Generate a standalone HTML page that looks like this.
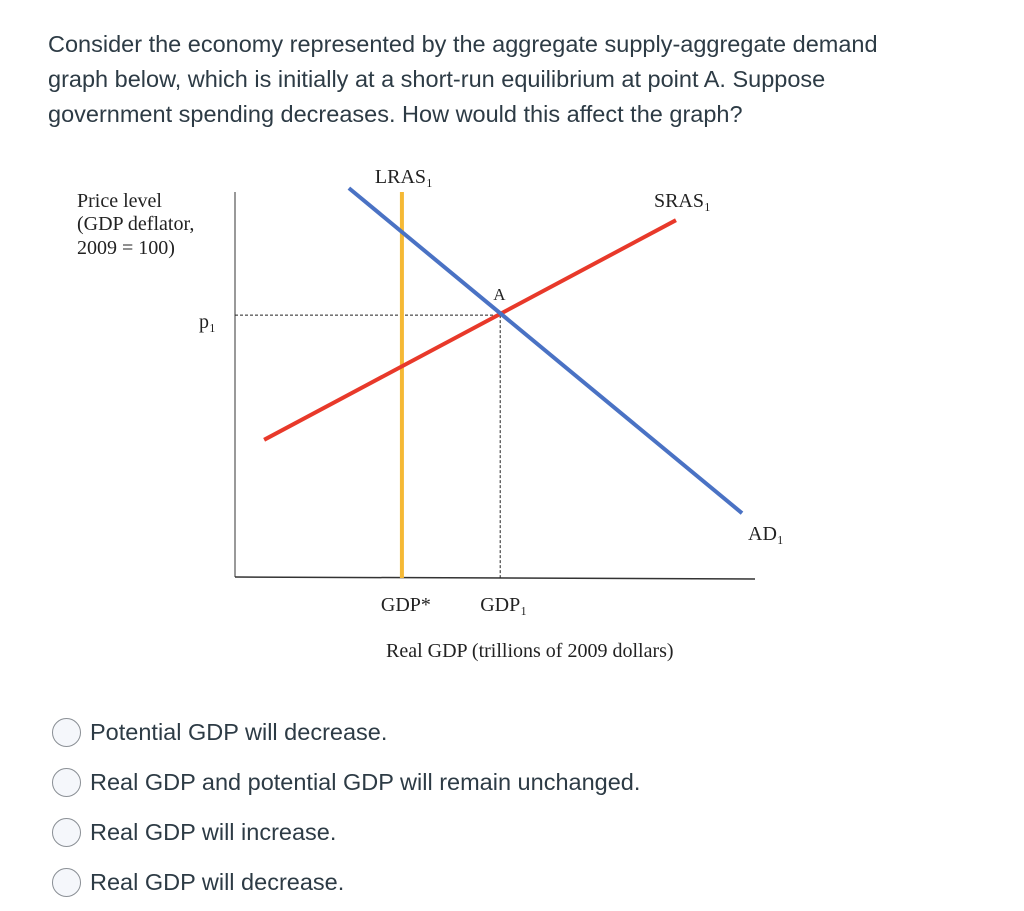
<!DOCTYPE html>
<html><head><meta charset="utf-8"><style>
body{margin:0;background:#fff;width:1024px;height:911px;overflow:hidden;font-family:"Liberation Sans",sans-serif;color:#2d3b45}
.q{position:absolute;left:48px;top:27px;font-size:23.5px;line-height:35px;width:980px;white-space:nowrap}
.opt{position:absolute;left:52px;height:30px;font-size:23.5px;line-height:30px}
.opt .c{position:absolute;left:0;top:1px;width:27px;height:27px;border:1px solid #8a8f95;border-radius:50%;background:#f5f7fb}
.opt span{position:absolute;left:38px;white-space:nowrap;color:#2d3b45}
svg text{font-family:"Liberation Serif",serif;fill:#222}
</style></head><body>
<div class="q">Consider the economy represented by the aggregate supply-aggregate demand<br>graph below, which is initially at a short-run equilibrium at point A. Suppose<br>government spending decreases. How would this affect the graph?</div>
<svg id="chart" width="1024" height="911" style="position:absolute;left:0;top:0">
<text x="77" y="207" font-size="20">Price level</text>
<text x="77" y="230" font-size="20">(GDP deflator,</text>
<text x="77" y="254" font-size="20">2009 = 100)</text>
<text x="386" y="657" font-size="20">Real GDP (trillions of 2009 dollars)</text>
<g id="marks"></g>
</svg>
<div class="opt" style="top:717px"><div class="c"></div><span>Potential GDP will decrease.</span></div>
<div class="opt" style="top:767px"><div class="c"></div><span>Real GDP and potential GDP will remain unchanged.</span></div>
<div class="opt" style="top:817px"><div class="c"></div><span>Real GDP will increase.</span></div>
<div class="opt" style="top:867px"><div class="c"></div><span>Real GDP will decrease.</span></div>
<script>
const lrasX = [32.1];
const adX = [21.9, 97.5];
const adY = [101, 16.8];
const srasX = [5.6, 84.8];
const srasY = [35.8, 92.7];
const eqPoint = [51, 68.1];
const sx = v => 235 + v * 5.2;
const sy = v => 578 - v * 3.86;
const NS = "http://www.w3.org/2000/svg";
const g = document.getElementById('marks');
function mk(tag, attrs){const e=document.createElementNS(NS,tag);for(const k in attrs)e.setAttribute(k,attrs[k]);g.appendChild(e);return e;}
function txt(x,y,s,sz,t){const e=mk('text',{x:x,y:y,'font-size':sz});e.textContent=t;return e;}
let e;
e=mk('line',{x1:235,y1:192,x2:235,y2:577,stroke:'#333','stroke-width':1});


e=mk('line',{x1:235,y1:577,x2:755,y2:579,stroke:'#333','stroke-width':1.5});


e=mk('line',{x1:235,y1:sy(eqPoint[1]),x2:sx(eqPoint[0]),y2:sy(eqPoint[1]),stroke:'#222','stroke-width':1,'stroke-dasharray':'3,2'});


e=mk('line',{x1:sx(eqPoint[0]),y1:sy(eqPoint[1]),x2:sx(eqPoint[0]),y2:578,stroke:'#222','stroke-width':1,'stroke-dasharray':'3,2'});


e=mk('line',{x1:sx(lrasX[0]),y1:192,x2:sx(lrasX[0]),y2:578,stroke:'#f5b935','stroke-width':4});


e=mk('line',{x1:sx(srasX[0]),y1:sy(srasY[0]),x2:sx(srasX[1]),y2:sy(srasY[1]),stroke:'#e8392a','stroke-width':4});


e=mk('line',{x1:sx(adX[0]),y1:sy(adY[0]),x2:sx(adX[1]),y2:sy(adY[1]),stroke:'#4a72c4','stroke-width':4});


e=txt(sx(lrasX[0])-27,183,0,20,'LRAS\u2081');


e=txt(sx(srasX[1])-22,207,0,20,'SRAS\u2081');


e=txt(sx(adX[1])+6,540,0,20,'AD\u2081');


e=txt(sx(eqPoint[0])-7,sy(eqPoint[1])-15,0,17,'A');


e=txt(199,sy(eqPoint[1])+13,0,20,'p\u2081');


e=txt(sx(lrasX[0])-21,611,0,20,'GDP*');


e=txt(sx(eqPoint[0])-20,611,0,20,'GDP\u2081');


</script>
</body></html>
